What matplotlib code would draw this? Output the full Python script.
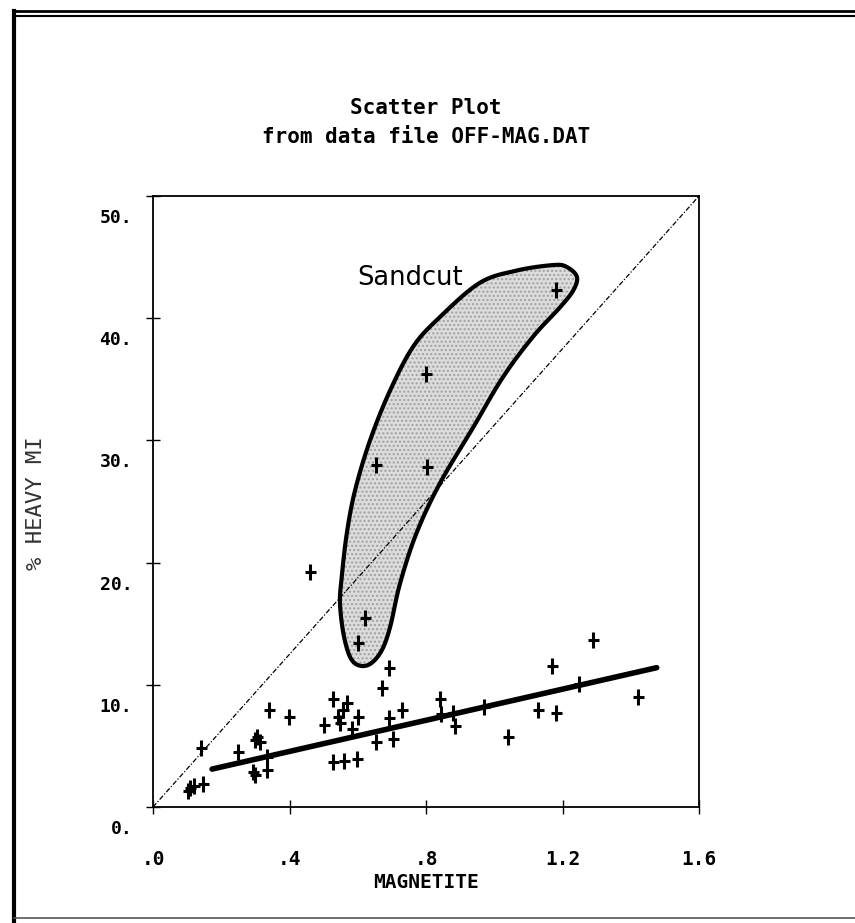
import matplotlib
matplotlib.use("Agg")
import numpy as np
import matplotlib.pyplot as plt
import matplotlib.transforms as mtransforms
from matplotlib.lines import Line2D
from matplotlib.patches import Polygon
from matplotlib.path import Path

# magnetite vs % heavy minerals, samples from OFF-MAG.DAT
magnetite = [
    1.181, 0.800, 0.653, 0.802, 0.621, 0.601,
    0.460, 0.691, 0.672, 1.289, 1.168, 1.249, 1.421, 0.970, 1.129, 1.180,
    1.041, 0.840, 0.843, 0.879, 0.885, 0.730, 0.692, 0.703, 0.653,
    0.528, 0.568, 0.556, 0.543, 0.548, 0.501, 0.601, 0.583,
    0.528, 0.560, 0.598, 0.340, 0.399, 0.140, 0.249,
    0.299, 0.314, 0.306, 0.293, 0.299, 0.333, 0.334,
    0.108, 0.104, 0.147, 0.120,
]
heavy_mi = [
    42.3, 35.4, 28.0, 27.8, 15.5, 13.4,
    19.2, 11.4, 9.7, 13.7, 11.5, 10.1, 9.0, 8.2, 7.9, 7.7,
    5.7, 8.8, 7.6, 7.7, 6.6, 7.9, 7.3, 5.6, 5.3,
    8.8, 8.5, 7.9, 7.4, 6.9, 6.7, 7.4, 6.4,
    3.7, 3.8, 3.9, 7.9, 7.4, 4.8, 4.5,
    5.5, 5.3, 5.7, 2.9, 2.6, 4.1, 3.0,
    1.55, 1.3, 1.9, 1.7,
]

# fitted trend line
fit_intercept = 2.0
fit_slope = 6.37
fit_range = [0.173, 1.476]

# outline drawn around the sandcut samples
sandcut_x = [1.173, 1.066, 0.958, 0.841, 0.763, 0.695, 0.636, 0.592, 0.568, 0.553,
             0.548, 0.558, 0.577, 0.602, 0.636, 0.670, 0.695, 0.724, 0.772, 0.841,
             0.939, 1.026, 1.114, 1.193, 1.232, 1.242, 1.212]
sandcut_y = [44.35, 43.9, 42.9, 40.1, 37.7, 34.1, 30.0, 25.9, 22.4, 18.8,
             16.7, 14.2, 12.3, 11.6, 11.7, 12.8, 14.75, 18.3, 22.4, 26.5,
             31.1, 35.2, 38.5, 40.9, 42.3, 43.4, 44.2]

x_ticks = [0.0, 0.4, 0.8, 1.2, 1.6]
x_labels = [".0", ".4", ".8", "1.2", "1.6"]
y_ticks = [0, 10, 20, 30, 40, 50]
y_labels = ["0.", "10.", "20.", "30.", "40.", "50."]

mono = dict(family="DejaVu Sans Mono", weight="bold")


def closed_spline(xs, ys, n=16):
    # Catmull-Rom through the outline points, wrapped round
    p = np.column_stack([xs, ys])
    m = len(p)
    out = []
    for i in range(m):
        p0, p1, p2, p3 = p[i - 1], p[i], p[(i + 1) % m], p[(i + 2) % m]
        for t in np.linspace(0, 1, n, endpoint=False):
            t2, t3 = t * t, t * t * t
            out.append(0.5 * (2 * p1 + (p2 - p0) * t
                              + (2 * p0 - 5 * p1 + 4 * p2 - p3) * t2
                              + (3 * p1 - p0 - 3 * p2 + p3) * t3))
    return np.array(out)


# narrow vertical cross used for the samples
cross = Path([(-0.36, 0), (0.36, 0), (0, -0.5), (0, 0.5)],
             [Path.MOVETO, Path.LINETO, Path.MOVETO, Path.LINETO])

fig = plt.figure(figsize=(8.55, 9.23), dpi=100)
ax = fig.add_axes([153 / 855, 1 - 807 / 923, 546 / 855, 611 / 923])

# shaded sandcut region
outline = closed_spline(sandcut_x, sandcut_y)
ax.add_patch(Polygon(outline, closed=True, facecolor="#dcdcdc", edgecolor="#a0a0a0",
                     hatch="....", linewidth=0, zorder=1))
ax.add_patch(Polygon(outline, closed=True, fill=False, edgecolor="black",
                     linewidth=3.0, joinstyle="round", zorder=3))
ax.text(0.753, 43.3, "Sandcut", fontsize=18.5, family="DejaVu Sans",
        ha="center", va="center", zorder=4)

# 1:1 reference line
ax.plot([0, 1.6], [0, 50], color="black", linewidth=0.9,
        linestyle=(0, (4, 1.5, 1, 1.5)), zorder=2)

fx = fit_range
fy = [fit_intercept + fit_slope * v for v in fx]
ax.plot(fx, fy, color="black", linewidth=4, solid_capstyle="round", zorder=4)

ax.plot(magnetite, heavy_mi, linestyle="none", marker=cross, markersize=11,
        markeredgewidth=2.2, color="black", zorder=5)

ax.set_xlim(0, 1.6)
ax.set_ylim(0, 50)
ax.set_xticks(x_ticks)
ax.set_xticklabels(x_labels, fontsize=14, **mono)
ax.set_yticks(y_ticks)
ax.set_yticklabels(y_labels, fontsize=13, **mono)
ax.tick_params(axis="x", direction="inout", length=10, width=1, pad=26)
ax.tick_params(axis="y", direction="inout", length=10, width=1, pad=10)
for s in ax.spines.values():
    s.set_linewidth(1.3)

# y tick labels sit a little below their ticks
shift = mtransforms.ScaledTranslation(0, -20 / 100, fig.dpi_scale_trans)
for lbl in ax.get_yticklabels():
    lbl.set_transform(lbl.get_transform() + shift)

fig.text(426 / 855, 1 - 108 / 923, "Scatter Plot", ha="center", va="center",
         fontsize=15, **mono)
fig.text(426 / 855, 1 - 137 / 923, "from data file OFF-MAG.DAT", ha="center",
         va="center", fontsize=15, **mono)
fig.text(426 / 855, 1 - 883 / 923, "MAGNETITE", ha="center", va="center",
         fontsize=14, family="DejaVu Sans Mono", weight="heavy")
fig.text(36 / 855, 1 - 503 / 923, "% HEAVY MI", ha="center", va="center",
         rotation=90, fontsize=16, family="DejaVu Sans Mono", color="#333333")

# page frame
fig.add_artist(Line2D([14 / 855, 1], [1 - 11 / 923] * 2, color="black", linewidth=2))
fig.add_artist(Line2D([14 / 855, 1], [1 - 16 / 923] * 2, color="black", linewidth=1.5))
fig.add_artist(Line2D([14 / 855] * 2, [0, 1 - 11 / 923], color="black", linewidth=3))
fig.add_artist(Line2D([14 / 855, 1], [1 - 918 / 923] * 2, color="#555555", linewidth=1.2))

fig.savefig("out.png", dpi=100)
